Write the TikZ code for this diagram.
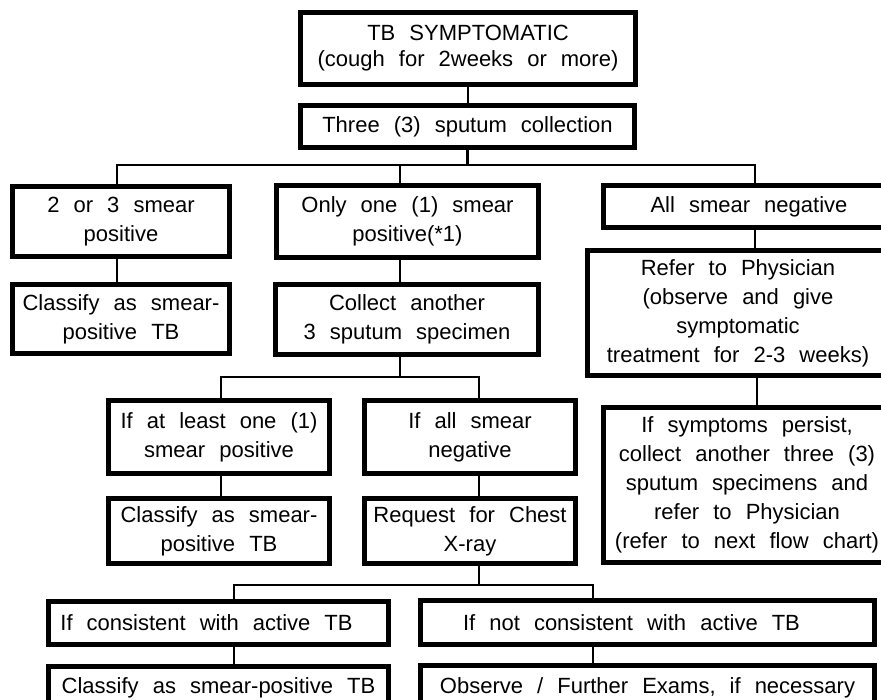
\documentclass[tikz,border=0pt]{standalone}
\usepackage{fontspec}
\setmainfont[WordSpace=2.3]{Liberation Sans}
\begin{document}
\begin{tikzpicture}[x=1pt,y=-1pt,
  box/.style={draw=black, line width=5pt, inner sep=0pt, align=center,
    font=\fontsize{22}{29}\selectfont},
  conn/.style={draw=black, line width=2.5pt}]
\useasboundingbox (0,0) rectangle (881,699);
\fill[white] (0,0) rectangle (881,699);
\clip (0,0) rectangle (881,699);

% boxes
\node[box, minimum width=335pt, minimum height=72pt, font=\fontsize{22}{26}\selectfont] (t1) at (468,48.5) {TB SYMPTOMATIC\\(cough for 2weeks or more)};
\node[box, minimum width=334pt, minimum height=42pt] (coll) at (467.5,126.5) {Three (3) sputum collection};
\node[box, minimum width=217pt, minimum height=70pt] (pos23) at (121,221.5) {2 or 3 smear\\positive};
\node[box, minimum width=262pt, minimum height=72pt] (one) at (407.5,221.5) {Only one (1) smear\\positive(*1)};
\node[box, minimum width=291pt, minimum height=42pt] (neg) at (749,206.5) {All smear negative};
\node[box, minimum width=217pt, minimum height=69pt] (cls1) at (121,319) {Classify as smear-\\positive TB};
\node[box, minimum width=263pt, minimum height=70pt] (coll2) at (407,319.5) {Collect another\\3 sputum specimen};
\node[box, minimum width=301pt, minimum height=125pt] (refer) at (738,313) {Refer to Physician\\(observe and give\\symptomatic\\treatment for 2-3 weeks)};
\node[box, minimum width=221pt, minimum height=73pt] (atl) at (219,437) {If at least one (1)\\smear positive};
\node[box, minimum width=211pt, minimum height=73pt] (alln) at (470,437) {If all smear\\negative};
\node[box, minimum width=221pt, minimum height=65pt] (cls2) at (219,531) {Classify as smear-\\positive TB};
\node[box, minimum width=211pt, minimum height=65pt] (req) at (470,531) {Request for Chest\\X-ray};
\node[box, minimum width=287pt, minimum height=155pt] (symp) at (747,485) {If symptoms persist,\\collect another three (3)\\sputum specimens and\\refer to Physician\\(refer to next flow chart)};
\node[box, minimum width=340pt, minimum height=43pt] (cons) at (218.5,623) {If consistent with active TB\hspace*{24pt}};
\node[box, minimum width=454pt, minimum height=44pt] (ncons) at (647.5,622.5) {If not consistent with active TB\hspace*{32pt}};
\node[box, minimum width=340pt, minimum height=43pt] (cls3) at (218.5,688) {Classify as smear-positive TB};
\node[box, minimum width=454pt, minimum height=44pt] (obs) at (647.5,687.5) {Observe / Further Exams, if necessary};

% bus coordinates
\coordinate (b1L) at (117,165);
\coordinate (b1M) at (400,165);
\coordinate (b1R) at (755,165);
\coordinate (b2L) at (221,377);
\coordinate (b2M) at (400,377);
\coordinate (b2R) at (479,377);
\coordinate (rs) at (757,400);
\coordinate (b3L) at (234,585);
\coordinate (b3M) at (479,585);
\coordinate (b3R) at (593,585);

% connectors
\draw[conn] (t1.south) -- (t1.south |- coll.north);
\draw[conn] (coll.south) -- (coll.south |- b1L);
\draw[conn] (b1L |- pos23.north) -- (b1L) -- (b1R) -- (b1R |- neg.north);
\draw[conn] (b1M) -- (b1M |- one.north);
\draw[conn] (b1L |- pos23.south) -- (b1L |- cls1.north);
\draw[conn] (b1R |- neg.south) -- (b1R |- refer.north);
\draw[conn] (b1M |- one.south) -- (b1M |- coll2.north);
\draw[conn] (b1M |- coll2.south) -- (b2M);
\draw[conn] (b2L |- atl.north) -- (b2L) -- (b2R) -- (b2R |- alln.north);
\draw[conn] (b2L |- atl.south) -- (b2L |- cls2.north);
\draw[conn] (b2R |- alln.south) -- (b2R |- req.north);
\draw[conn] (rs |- refer.south) -- (rs |- symp.north);
\draw[conn] (b2R |- req.south) -- (b3M);
\draw[conn] (b3L |- cons.north) -- (b3L) -- (b3R) -- (b3R |- ncons.north);
\draw[conn] (b3L |- cons.south) -- (b3L |- cls3.north);
\draw[conn] (b3R |- ncons.south) -- (b3R |- obs.north);
\end{tikzpicture}
\end{document}
